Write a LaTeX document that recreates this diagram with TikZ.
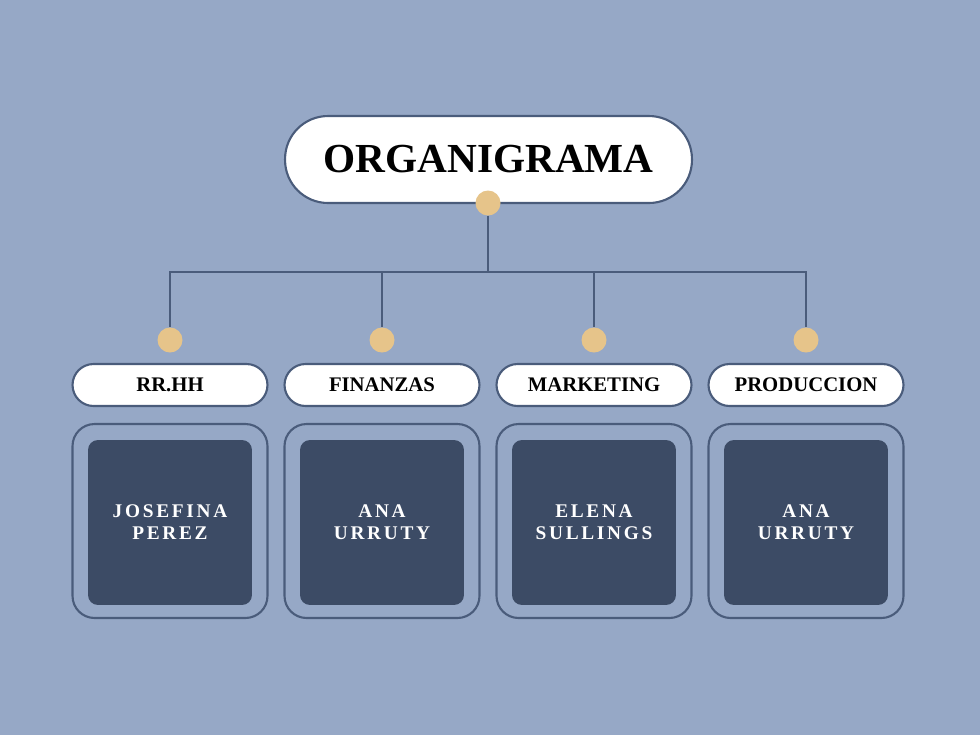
\documentclass[tikz,border=0pt]{standalone}
\usepackage{fontspec}
\setmainfont{Liberation Serif}
\newfontfamily\namefont[LetterSpace=14]{Liberation Serif}
\usetikzlibrary{positioning}
\definecolor{fondo}{HTML}{96A8C6}
\definecolor{linea}{HTML}{4A5C7B}
\definecolor{punto}{HTML}{E6C48A}
\definecolor{interior}{HTML}{3C4B65}
\pgfdeclarelayer{bg}
\pgfsetlayers{bg,main}

\begin{document}
\begin{tikzpicture}[x=0.02cm, y=-0.02cm,
		pill/.style={draw=linea, line width=1.2pt, fill=white, rounded corners=0.42cm, minimum width=3.9cm, minimum height=0.84cm, inner sep=0pt, font=\bfseries\fontsize{11.8}{14}\selectfont},
		titlepill/.style={pill, rounded corners=0.86cm, minimum width=8.14cm, minimum height=1.74cm, font=\bfseries\fontsize{23.5}{28}\selectfont},
		dot/.style={circle, fill=punto, minimum size=0.5cm, inner sep=0pt},
		caja/.style={draw=linea, line width=1.2pt, fill=fondo, rounded corners=0.44cm, minimum width=3.9cm, minimum height=3.88cm, inner sep=0pt},
		cajain/.style={fill=interior, rounded corners=0.2cm, minimum width=3.28cm, minimum height=3.3cm, inner sep=0pt, align=center, text=white, font=\namefont\bfseries\fontsize{11}{12.5}\selectfont},
		conector/.style={draw=linea, line width=1.4pt}]
	\begin{pgfonlayer}{bg}
		\fill[fondo] (0,0) rectangle (980,735);
	\end{pgfonlayer}

	\node[titlepill] (titulo) at (488.5,159.5) {ORGANIGRAMA};
	\node[dot] (ptitulo) at (488,203) {};
	\coordinate (cruce) at (488,272);

	\foreach \x/\area/\nombre/\n in {170/RR.HH/{JOSEFINA\\PEREZ}/rrhh, 382/FINANZAS/{ANA\\URRUTY}/fin, 594/MARKETING/{ELENA\\SULLINGS}/mkt, 806/PRODUCCION/{ANA\\URRUTY}/prod}{
		\node[dot] (p\n) at (\x,340) {};
		\node[pill] (a\n) at (\x,385) {\area};
		\node[caja] (c\n) at (\x,521) {};
		\node[cajain] (i\n) at (\x,522.5) {\nombre};
		\begin{pgfonlayer}{bg}
			\draw[conector] (ptitulo) -- (cruce) -| (p\n);
		\end{pgfonlayer}
	}
\end{tikzpicture}
\end{document}
